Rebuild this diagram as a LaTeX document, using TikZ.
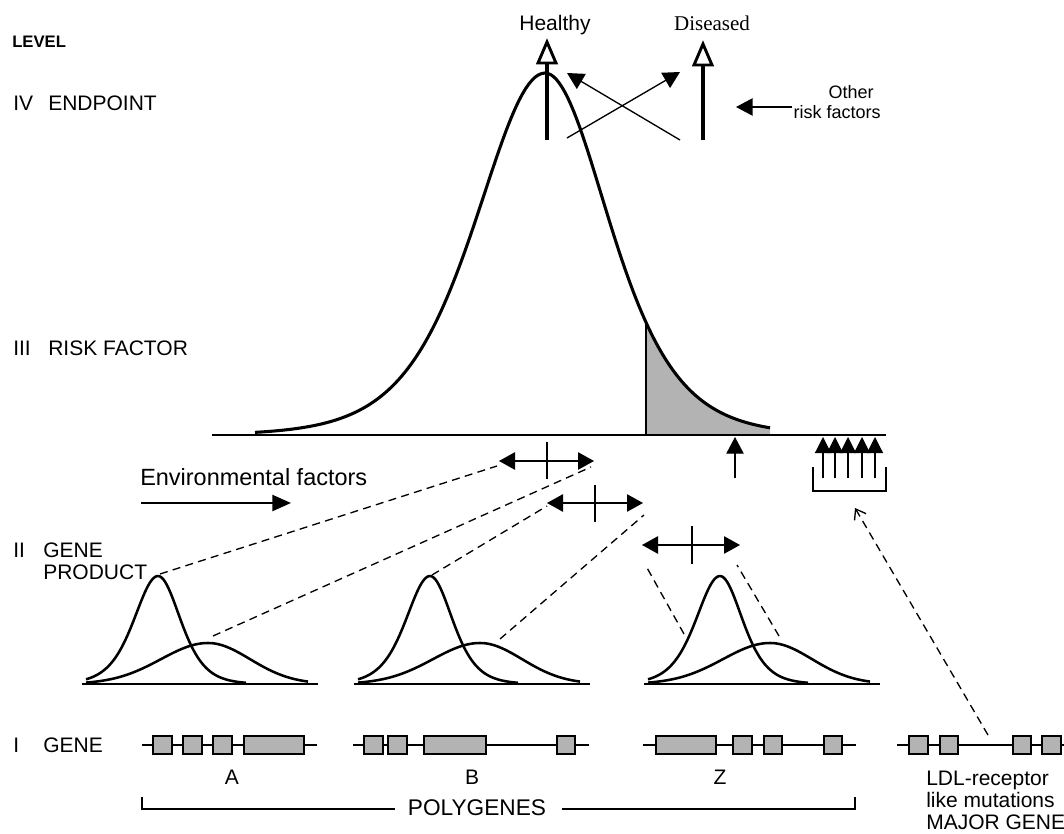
\documentclass[tikz,border=0pt]{standalone}
\usepackage{fontspec}
\setmainfont{Liberation Sans}
\newfontfamily\timesfont{Liberation Serif}
\usetikzlibrary{arrows.meta}
\definecolor{exongray}{HTML}{B3B3B3}
\begin{document}
\begin{tikzpicture}[x=0.75pt,y=-0.75pt,
  lbl/.style={font=\fontsize{15.75}{18}\selectfont, inner sep=0pt, anchor=base west},
  smalllbl/.style={font=\fontsize{13.5}{15}\selectfont, inner sep=0pt, anchor=base east},
  biglbl/.style={font=\fontsize{17}{20}\selectfont, inner sep=0pt},
  bigcurve/.style={line width=2.3pt, line join=round},
  smallcurve/.style={line width=1.9pt, line join=round},
  axisline/.style={line width=0.9pt},
  geneline/.style={line width=0.8pt},
  exon/.style={draw, fill=exongray, line width=0.8pt},
  dashline/.style={line width=1pt, dash pattern=on 6pt off 4pt},
  dblarrow/.style={line width=1.2pt, {Triangle[length=12pt,width=13pt]}-{Triangle[length=12pt,width=13pt]}},
  fwdarrow/.style={line width=1.1pt, -{Triangle[length=12.5pt,width=13pt]}},
  openhead/.style={line width=2.2pt, fill=white, line join=miter},
  tickline/.style={line width=1.1pt}
]
\useasboundingbox (0,0) rectangle (1064,834);

% ---------------- labels on the left ----------------
\node[lbl, font=\bfseries\fontsize{12.5}{14}\selectfont] (level) at (12,48) {LEVEL};
\node[lbl] (iv) at (13,111) {IV};
\node[lbl] (endpoint) at (48,111) {ENDPOINT};
\node[lbl] (iii) at (13,355) {III};
\node[lbl] (riskfactor) at (48,355) {RISK FACTOR};
\node[lbl] (ii) at (13,557) {II};
\node[lbl] (gene2) at (43,557) {GENE};
\node[lbl] (product) at (43,579) {PRODUCT};
\node[lbl] (i) at (13,752) {I};
\node[lbl] (gene1) at (43,752) {GENE};

% ---------------- risk factor distribution ----------------
\fill[exongray] (646,435) -- plot[domain=646:770, samples=60] (\x,{435-362/(cosh((\x-545)/85))^2}) -- (770,435) -- cycle;
\draw[line width=0.8pt] (646,435) -- (646,322);
\draw[axisline] (212,435) -- (886,435);
\draw[bigcurve] plot[domain=255:545, samples=90] (\x,{435-362/(cosh((\x-545)/92))^2})
  -- plot[domain=545:770, samples=80] (\x,{435-362/(cosh((\x-545)/85))^2});

% ---------------- endpoint arrows ----------------
\coordinate (hbot) at (547,140);
\coordinate (htop) at (547,63);
\coordinate (dbot) at (703,140);
\coordinate (dtop) at (703,65);
\draw[line width=2.4pt] (hbot) -- (htop);
\draw[line width=2.4pt] (dbot) -- (dtop);
\draw[openhead] (547,42) -- (556,63) -- (538,63) -- cycle;
\draw[openhead] (703,44) -- (712,65) -- (694,65) -- cycle;
\node[lbl, anchor=base] (healthy) at (555,31) {Healthy};
\node[lbl, anchor=base, font=\timesfont\fontsize{15.75}{18}\selectfont] (diseased) at (712,31) {Diseased};

\coordinate (c1s) at (680,140);
\coordinate (c1e) at (567,73);
\coordinate (c2s) at (567,138);
\coordinate (c2e) at (680,72);
\draw[fwdarrow, line width=1pt] (c1s) -- (c1e);
\draw[fwdarrow, line width=1pt] (c2s) -- (c2e);

\coordinate (ors) at (792,107);
\coordinate (ore) at (736,107);
\draw[fwdarrow] (ors) -- (ore);
\node[smalllbl] (other) at (874,99) {Other};
\node[smalllbl] (riskf) at (881,119) {risk factors};

% ---------------- environmental factors ----------------
\node[biglbl, anchor=base west, font=\fontsize{17.6}{20}\selectfont] (env) at (140,485) {Environmental factors};
\coordinate (envs) at (141,503);
\coordinate (enve) at (291,503);
\draw[line width=1.8pt, -{Triangle[length=14pt,width=12pt]}] (envs) -- (enve);

% ---------------- double arrows ----------------
\coordinate (d1l) at (499,461); \coordinate (d1r) at (594,461);
\coordinate (d2l) at (547,503); \coordinate (d2r) at (643,503);
\coordinate (d3l) at (642,545); \coordinate (d3r) at (740,545);
\draw[dblarrow] (d1l) -- (d1r);
\draw[dblarrow] (d2l) -- (d2r);
\draw[dblarrow] (d3l) -- (d3r);
\draw[tickline] (547,442) -- (547,479);
\draw[tickline] (595,485) -- (595,522);
\draw[tickline] (692,526) -- (692,564);

\coordinate (ups) at (735,478);
\coordinate (upe) at (735,437);
\draw[fwdarrow, line width=1pt] (ups) -- (upe);

% five arrows of the major gene
\foreach \xx/\nm in {823/m1,835/m2,848/m3,862/m4,875/m5}{
  \coordinate (\nm s) at (\xx,478);
  \coordinate (\nm e) at (\xx,437);
  \draw[line width=0.9pt, -{Triangle[length=12pt,width=12pt]}] (\nm s) -- (\nm e);
}
\draw[line width=0.9pt] (813,467) -- (813,491) -- (886,491) -- (886,467);

% ---------------- gene product distributions ----------------
\foreach \c in {158,430,720}{
  \draw[axisline] (\c-76,684) -- (\c+160,684);
  \draw[smallcurve] plot[domain=\c-72:\c, samples=50] (\x,{684-108/(cosh((\x-\c)/32))^2})
    -- plot[domain=\c:\c+88, samples=50] (\x,{684-108/(cosh((\x-\c)/30))^2});
  \draw[smallcurve] plot[domain=\c-72:\c+50, samples=50] (\x,{684-41*exp(-((\x-\c-50)^2)/4418)})
    -- plot[domain=\c+50:\c+150, samples=50] (\x,{684-41*exp(-((\x-\c-50)^2)/3528)});
}

% dashed links
\coordinate (p1n) at (160,574); \coordinate (p1w) at (213,636);
\coordinate (p2n) at (432,575); \coordinate (p2w) at (500,639);
\coordinate (p3n) at (684,634); \coordinate (p3w) at (779,636);
\draw[dashline] (p1n) -- (497,466);
\draw[dashline] (p1w) -- (591,467);
\draw[dashline] (p2n) -- (547,506);
\draw[dashline] (p2w) -- (644,515);
\draw[dashline] (p3n) -- (646,566);
\draw[dashline] (p3w) -- (737,565);

% ---------------- genes ----------------
\draw[geneline] (142,745) -- (317,745);
\foreach \a/\b in {153/172,183/202,213/232,244/304}{\draw[exon] (\a,736) rectangle (\b,754);}
\draw[geneline] (353,745) -- (589,745);
\foreach \a/\b in {364/383,388/407,424/486,557/575}{\draw[exon] (\a,736) rectangle (\b,754);}
\draw[geneline] (643,745) -- (856,745);
\foreach \a/\b in {656/716,733/752,764/782,824/842}{\draw[exon] (\a,736) rectangle (\b,754);}
\draw[geneline] (897,745) -- (1064,745);
\foreach \a/\b in {909/928,940/958,1013/1031,1042/1061}{\draw[exon] (\a,736) rectangle (\b,754);}

\node[lbl, anchor=base] (ga) at (232,784) {A};
\node[lbl, anchor=base] (gb) at (472,784) {B};
\node[lbl, anchor=base] (gz) at (720,784) {Z};

% polygenes bracket
\node[biglbl, anchor=base] (poly) at (477,815) {POLYGENES};
\coordinate (pl) at (395,809);
\coordinate (pr) at (562,809);
\draw[geneline] (142,797) -- (142,809) -- (pl);
\draw[geneline] (pr) -- (855,809) -- (855,797);

% major gene
\coordinate (mjs) at (988,735);
\coordinate (mje) at (855,508);
\draw[line width=1pt, dash pattern=on 6pt off 4pt, -{Straight Barb[length=7pt,width=10pt]}] (mjs) -- (mje);
\node[lbl] (ldl1) at (926,785) {LDL-receptor};
\node[lbl] (ldl2) at (926,807) {like mutations};
\node[lbl] (ldl3) at (926,829) {MAJOR GENE};
\end{tikzpicture}
\end{document}
